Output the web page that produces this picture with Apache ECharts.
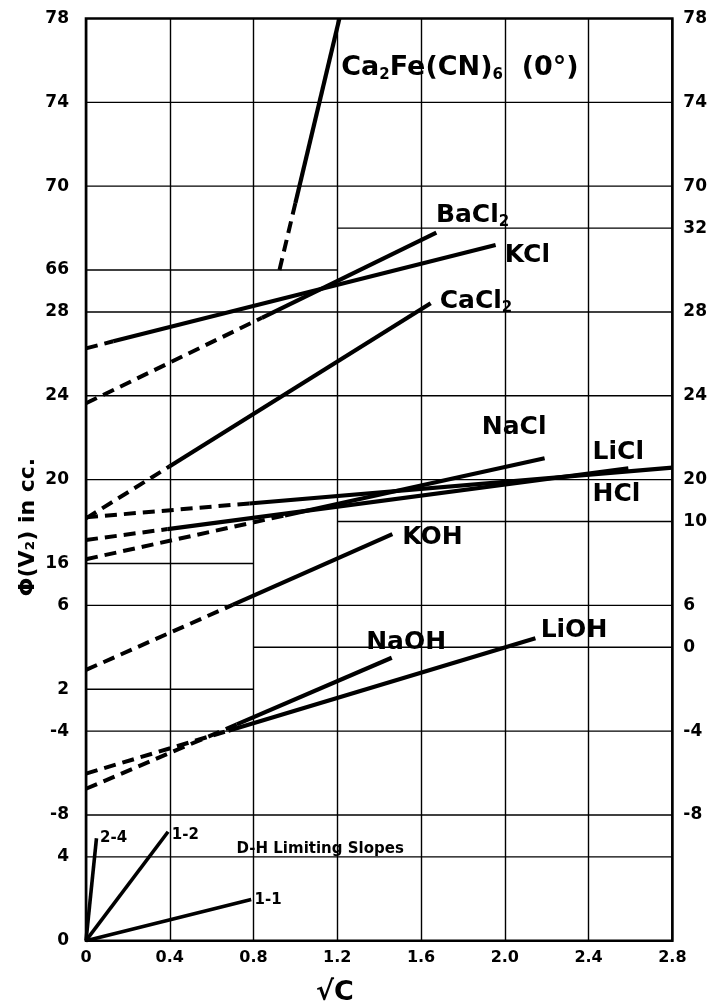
<!DOCTYPE html>
<html><head><meta charset="utf-8">
<script src="https://cdn.jsdelivr.net/npm/echarts@6/dist/echarts.min.js"></script>
<style>html,body{margin:0;padding:0;background:#fff}#c{width:710px;height:1008px}</style>
</head><body><div id="c"></div>
<script>
// ---------- data ----------
const xTickLabels = ['0','0.4','0.8','1.2','1.6','2.0','2.4','2.8'];
// broken ordinate: each sub-scale is shifted onto one common axis
const scaleOffset = {dh:0, neg:14, koh:10, chl:2, ferro:-34};
const leftTicks  = {dh:[0,4], neg:[-8,-4], koh:[2,6], chl:[16,20,24,28], ferro:[66,70,74,78]};
const rightTicks = {neg:[-8,-4,0], koh:[6,10], chl:[20,24,28,32], ferro:[70,74,78]};

// each curve: [start, end of extrapolated (dashed) part, end]
const ca2feX=[0.924,1.0,1.21],  ca2feY=[66,69.2,78];
const bacl2X=[0,0.84,1.673],    bacl2Y=[23.64,27.72,31.78];
const kclX=[0,0.13,1.956],      kclY=[26.26,26.6,31.19];
const cacl2X=[0,0.4,1.646],     cacl2Y=[18.15,20.64,28.41];
const hclX=[0,0.78,2.8],        hclY=[18.2,18.86,20.57];
const liclX=[0,0.39,2.59],      liclY=[17.12,17.64,20.54];
const naclX=[0,0.95,2.19],      naclY=[16.2,18.29,21.02];
const kohX=[0,0.70,1.463],      kohY=[2.92,6.02,9.40];
const naohX=[0,0.72,1.46],      naohY=[-6.75,-3.68,-0.5];
const liohX=[0,0.68,2.146],     liohY=[-6.03,-3.98,0.43];
// Debye-Hückel limiting slopes
const dh24X=[0,0.05],  dh24Y=[0,4.89];
const dh12X=[0,0.392], dh12Y=[0,5.2];
const dh11X=[0,0.789], dh11Y=[0,1.97];

// partial horizontal rulings: [scale, value, from, to]
const hGrid = [
 ['ferro',74,0,2.8],['ferro',70,0,2.8],['ferro',66,0,1.2],
 ['chl',32,1.2,2.8],['chl',28,0,2.8],['chl',24,0,2.8],['chl',20,0,2.8],['chl',16,0,0.8],
 ['koh',10,1.2,2.8],['koh',6,0,2.8],['koh',2,0,0.8],
 ['neg',0,0.8,2.8],['neg',-4,0,2.8],['neg',-8,0,2.8],
 ['dh',4,0,2.8]
];

// ---------- build ----------
const toV = (sc, v) => v + scaleOffset[sc];
const leftMap = {}, rightMap = {};
Object.keys(leftTicks).forEach(sc => leftTicks[sc].forEach(v => leftMap[toV(sc,v)] = String(v)));
Object.keys(rightTicks).forEach(sc => rightTicks[sc].forEach(v => rightMap[toV(sc,v)] = String(v)));

const curves = [
 ['ferro',ca2feX,ca2feY],['chl',bacl2X,bacl2Y],['chl',kclX,kclY],['chl',cacl2X,cacl2Y],
 ['chl',hclX,hclY],['chl',liclX,liclY],['chl',naclX,naclY],['koh',kohX,kohY],
 ['neg',naohX,naohY],['neg',liohX,liohY]
];
const dhLines = [dh24X,dh24Y,dh12X,dh12Y,dh11X,dh11Y];

const series = [];
hGrid.forEach(g => {
  series.push({type:'line', symbol:'none', silent:true, z:1,
    lineStyle:{color:'#000', width:1.4},
    data:[[g[2], toV(g[0],g[1])],[g[3], toV(g[0],g[1])]]});
});
curves.forEach(c => {
  const [sc, xs, ys] = c;
  const pts = xs.map((x,i) => [x, toV(sc, ys[i])]);
  series.push({type:'line', symbol:'none', z:3,
    lineStyle:{color:'#000', width:4, type:[12,7], cap:'butt'}, data:[pts[0],pts[1]]});
  series.push({type:'line', symbol:'none', z:3,
    lineStyle:{color:'#000', width:4.2}, data:[pts[1],pts[2]]});
});
for (let i=0;i<dhLines.length;i+=2){
  const xs=dhLines[i], ys=dhLines[i+1];
  series.push({type:'line', symbol:'none', z:3, lineStyle:{color:'#000', width:3.6},
    data: xs.map((x,k)=>[x, toV('dh', ys[k])])});
}

const FONT = 'DejaVu Sans';
const sub = {fontSize:15, fontWeight:'bold', color:'#000', fontFamily:FONT, padding:[14,0,0,0]};
const labels = [
 ['{b|Ca}{s|2}{b|Fe(CN)}{s|6}{b|  (0°)}','ferro',1.219,75.64, 27],
 ['{b|BaCl}{s|2}','chl',1.671,32.6,25],
 ['{b|KCl}','chl',2.0,30.7,25],
 ['{b|CaCl}{s|2}','chl',1.689,28.5,25],
 ['{b|NaCl}','chl',1.89,22.5,25],
 ['{b|LiCl}','chl',2.419,21.29,25],
 ['{b|HCl}','chl',2.419,19.31,25],
 ['{b|KOH}','koh',1.51,9.24,25],
 ['{b|NaOH}','neg',1.338,0.25,25],
 ['{b|LiOH}','neg',2.171,0.82,25],
 ['{m|D-H Limiting Slopes}','dh',0.719,4.38,15],
 ['{m|2-4}','dh',0.067,4.89,15],
 ['{m|1-2}','dh',0.41,5.05,15],
 ['{m|1-1}','dh',0.805,1.94,15]
];
labels.forEach(l => {
  series.push({type:'scatter', symbolSize:0, z:5, silent:true,
    data:[[l[2], toV(l[1], l[3])]],
    label:{show:true, position:'right', distance:0, formatter:l[0], color:'#000',
      fontFamily:FONT, fontWeight:'bold', textBorderWidth:0, opacity:1,
      rich:{b:{fontSize:l[4], fontWeight:'bold', color:'#000', fontFamily:FONT}, s:sub,
            m:{fontSize:15, fontWeight:'bold', color:'#000', fontFamily:FONT}}}});
});

const chart = echarts.init(document.getElementById('c'), null, {renderer:'canvas'});
const tickFont = {fontSize:17, fontWeight:'bold', color:'#000', fontFamily:FONT};
chart.setOption({
  animation:false,
  backgroundColor:'#fff',
  grid:{left:86, right:36, top:18.5, bottom:67.3, show:true, borderColor:'#000', borderWidth:2.6, backgroundColor:'transparent'},
  xAxis:{type:'value', min:0, max:2.8, interval:0.4,
    axisLine:{show:false}, axisTick:{show:false},
    splitLine:{show:true, lineStyle:{color:'#000', width:1.4}},
    axisLabel:Object.assign({margin:9, formatter:(v)=>xTickLabels[Math.round(v/0.4)]}, tickFont, {fontSize:16})},
  yAxis:[
    {type:'value', min:0, max:44, interval:2, position:'left',
      axisLine:{show:false}, axisTick:{show:false}, splitLine:{show:false},
      axisLabel:Object.assign({margin:17, showMaxLabel:true, formatter:(v)=>leftMap[v]!==undefined?leftMap[v]:''}, tickFont)},
    {type:'value', min:0, max:44, interval:2, position:'right',
      axisLine:{show:false}, axisTick:{show:false}, splitLine:{show:false},
      axisLabel:Object.assign({margin:11, showMaxLabel:true, formatter:(v)=>rightMap[v]!==undefined?rightMap[v]:''}, tickFont)}
  ],
  graphic:[
    {type:'text', x:28, y:527, rotation:Math.PI/2,
      style:{text:'Φ(V₂) in cc.', font:'bold 22px "DejaVu Sans"', fill:'#000', textAlign:'center', textVerticalAlign:'middle'}},
    {type:'text', x:335, y:993,
      style:{text:'√C', font:'bold 27px "DejaVu Sans"', fill:'#000', textAlign:'center', textVerticalAlign:'middle'}}
  ],
  series:series
});
</script></body></html>
